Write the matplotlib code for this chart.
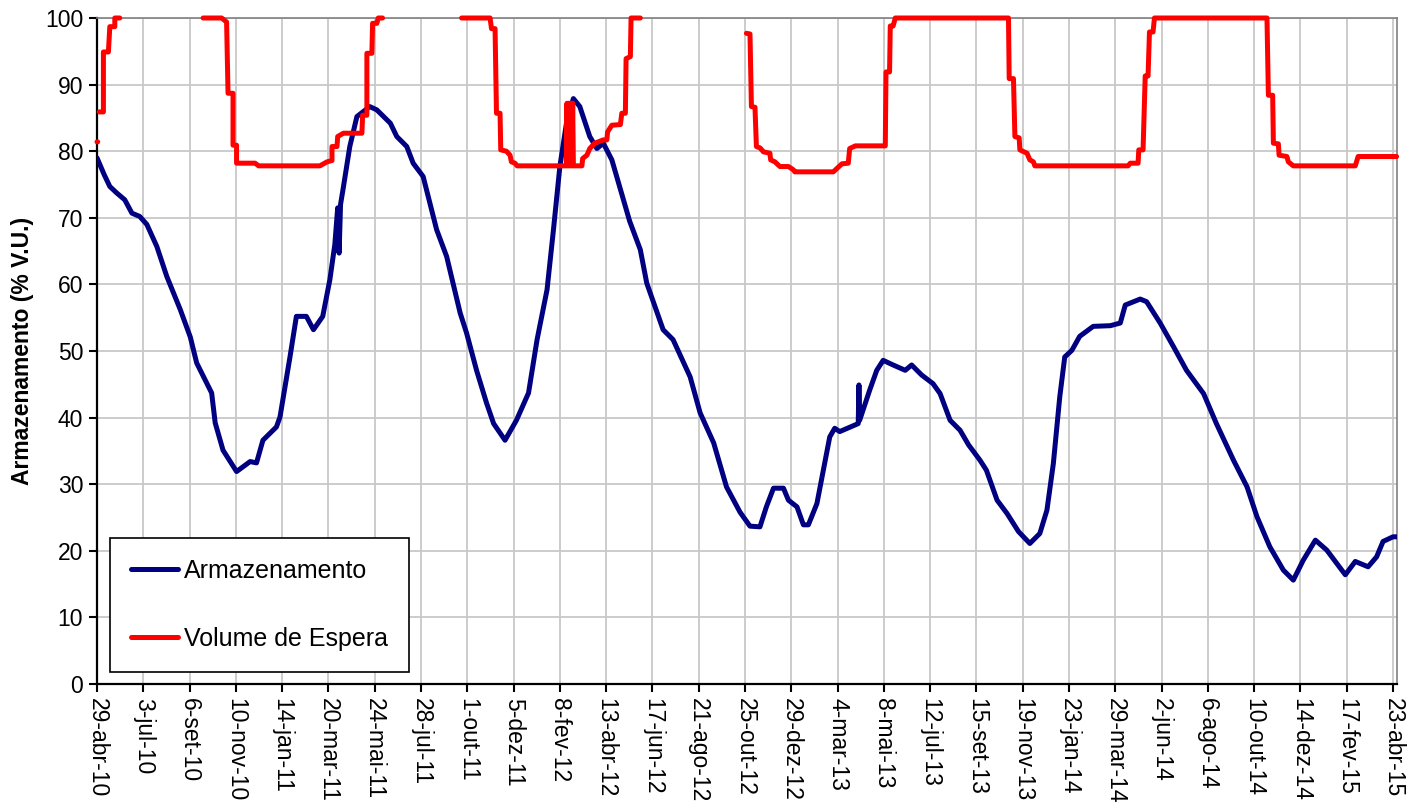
import datetime as dt
import numpy as np
import matplotlib
matplotlib.use("Agg")
import matplotlib.pyplot as plt

plt.rcParams.update({"font.family": ["Liberation Sans", "DejaVu Sans"]})

INICIO = dt.date(2010, 4, 29)
MESES = ["jan", "fev", "mar", "abr", "mai", "jun",
         "jul", "ago", "set", "out", "nov", "dez"]

# Armazenamento (% V.U.) -- days after 29-abr-10
dias_arm = [0, 10, 18, 28, 39, 49, 60, 70, 84, 98, 117, 131, 140, 154, 161,
            166, 177, 196, 215, 224, 233, 252, 257, 271, 280, 294, 304, 317,
            327, 334, 338, 340, 342, 346, 355, 365, 383, 393, 412, 421, 435,
            444, 458, 477, 491, 510, 519, 533, 547, 557, 573, 589, 606, 618,
            632, 641, 650, 660, 669, 678, 692, 702, 711, 723, 748, 763, 772,
            795, 809, 833, 847, 866, 884, 903, 917, 931, 940, 950, 964, 971,
            983, 992, 999, 1011, 1020, 1029, 1036, 1043, 1058, 1069, 1070,
            1071, 1085, 1095, 1104, 1118, 1135, 1144, 1158, 1174, 1184, 1198,
            1212, 1224, 1240, 1249, 1264, 1278, 1294, 1310, 1324, 1334, 1343,
            1352, 1359, 1369, 1380, 1399, 1423, 1437, 1444, 1465, 1474, 1493,
            1512, 1530, 1554, 1572, 1596, 1615, 1629, 1647, 1666, 1680, 1694,
            1711, 1727, 1753, 1767, 1785, 1797, 1806, 1820, 1825]
arm = [79.0, 76.5, 74.7, 73.7, 72.7, 70.7, 70.2, 69.0, 65.7, 61.2, 56.2,
       52.1, 48.2, 45.2, 43.7, 39.2, 35.1, 31.9, 33.4, 33.2, 36.6, 38.6,
       40.1, 49.1, 55.2, 55.2, 53.2, 55.2, 60.7, 66.0, 71.5, 64.7, 72.0,
       74.6, 80.7, 85.2, 86.7, 86.2, 84.2, 82.2, 80.7, 78.2, 76.2, 68.2,
       64.2, 55.7, 52.7, 47.1, 42.2, 39.1, 36.6, 39.6, 43.7, 51.7, 59.2,
       68.2, 77.7, 84.7, 87.9, 86.7, 82.2, 80.4, 81.2, 78.7, 69.5, 65.2,
       60.2, 53.2, 51.7, 46.1, 40.7, 36.2, 29.6, 25.8, 23.7, 23.6, 26.6,
       29.4, 29.4, 27.6, 26.6, 23.9, 23.9, 27.1, 32.1, 37.1, 38.4, 37.9,
       38.6, 39.1, 44.9, 39.6, 44.1, 47.1, 48.6, 47.9, 47.1, 47.9, 46.4,
       45.1, 43.6, 39.6, 38.1, 35.9, 33.6, 32.1, 27.6, 25.6, 22.9, 21.1,
       22.6, 26.1, 33.1, 43.1, 49.1, 50.1, 52.2, 53.7, 53.8, 54.2, 56.9,
       57.8, 57.4, 54.2, 50.6, 47.1, 43.6, 39.1, 33.6, 29.6, 25.1, 20.6,
       17.1, 15.6, 18.6, 21.6, 20.1, 16.4, 18.4, 17.6, 19.1, 21.4, 22.1,
       22.1]

# Volume de Espera (% V.U.) -- nan = no value
dias_esp = [0, 1, 2, 3, 9, 9, 16, 18, 25, 25, 32, 33,
            149, 175, 182, 184, 191, 191, 196, 196, 222, 227, 313, 323, 330,
            330, 337, 338, 346, 372, 373, 379, 379, 386, 387, 393, 395, 401,
            402,
            512, 552, 554, 559, 561, 566, 567, 575, 580, 582, 587, 590, 659,
            660, 661, 662, 663, 664, 665, 666, 667, 668, 669, 681, 682, 688,
            692, 699, 711, 716, 717, 723, 735, 737, 742, 743, 749, 750, 763,
            764,
            912, 917, 919, 924, 926, 931, 936, 945, 946, 952, 959, 971, 978,
            980, 1034, 1039, 1046, 1055, 1057, 1065, 1107, 1108, 1113, 1114,
            1118, 1121, 1280, 1281, 1287, 1289, 1295, 1296, 1306, 1310, 1315,
            1317, 1448, 1451, 1462, 1463, 1469, 1472, 1476, 1478, 1483, 1485,
            1643, 1645, 1651, 1652, 1659, 1660, 1671, 1673, 1680, 1767, 1771,
            1825]
esp = [81.4, 81.4, np.nan, 85.9, 85.9, 94.9, 94.9, 98.7, 98.7, 100, 100,
       np.nan,
       100, 100, 99.4, 88.7, 88.7, 80.9, 80.9, 78.2, 78.2, 77.8, 77.8, 78.4,
       78.6, 80.7, 80.7, 82.2, 82.7, 82.7, 85.4, 85.4, 94.7, 94.7, 99.2,
       99.2, 100, 100, np.nan,
       100, 100, 98.4, 98.4, 85.7, 85.7, 80.2, 80.0, 79.4, 78.4, 78.2, 77.8,
       77.8, 87.2, 77.8, 87.2, 77.8, 87.2, 77.8, 87.2, 77.8, 87.2, 77.8,
       77.8, 78.9, 79.4, 80.4, 81.2, 81.7, 81.7, 82.9, 83.9, 84.0, 85.7,
       85.7, 93.9, 94.2, 100, 100, np.nan,
       97.7, 97.6, 86.7, 86.6, 80.7, 80.5, 79.9, 79.7, 78.7, 78.4, 77.7,
       77.7, 77.2, 76.9, 76.9, 77.4, 78.1, 78.2, 80.4, 80.8, 80.8, 91.9,
       91.9, 98.8, 98.8, 100, 100, 90.9, 90.9, 82.2, 82.0, 80.2, 79.7, 78.7,
       78.4, 77.8, 77.8, 78.2, 78.2, 80.2, 80.2, 91.3, 91.3, 97.9, 97.9, 100,
       100, 88.4, 88.4, 81.2, 81.1, 79.4, 79.2, 78.4, 77.8, 77.8, 79.2,
       79.2]

W, H = 1417, 806
fig = plt.figure(figsize=(W / 100, H / 100), dpi=100, facecolor="white")
ax = fig.add_axes([97 / W, 1 - 684 / H, 1300 / W, 666 / H])

ax.plot(dias_arm, arm, color="#000080", lw=3.6, label="Armazenamento",
        solid_capstyle="round", solid_joinstyle="round", zorder=3)
ax.plot(dias_esp, esp, color="#ff0000", lw=3.6, label="Volume de Espera",
        solid_capstyle="round", solid_joinstyle="round", zorder=4,
        clip_on=False)

# ticks every 65 days
ticks = np.arange(0, 1821, 65)
labels = []
for t in ticks:
    d = INICIO + dt.timedelta(days=int(t))
    labels.append(f"{d.day}-{MESES[d.month - 1]}-{d.strftime('%y')}")
ax.set_xticks(ticks)
ax.set_xticklabels(labels, rotation=-90, fontsize=16.5, va="top", ha="center")
ax.set_xlim(0, 1825.6)

ax.set_ylim(0, 100)
ax.set_yticks(range(0, 101, 10))
ax.tick_params(axis="y", labelsize=16.5)
ax.tick_params(direction="out", length=6, width=1.5, color="black", pad=4)
ax.set_ylabel("Armazenamento (% V.U.)", fontsize=16.5, fontweight="bold",
              labelpad=8)

ax.grid(True, color="#c8c8c8", lw=1.3)
ax.set_axisbelow(True)
for s in ("left", "bottom"):
    ax.spines[s].set_color("black")
    ax.spines[s].set_linewidth(1.6)
for s in ("top", "right"):
    ax.spines[s].set_color("#808080")
    ax.spines[s].set_linewidth(1.2)

leg = ax.legend(loc="lower left", bbox_to_anchor=(13 / 1300, 12 / 666),
                borderaxespad=0, fontsize=18, frameon=True, fancybox=False,
                handlelength=1.85, handletextpad=0.25, labelspacing=1.75,
                borderpad=0.85)
leg.get_frame().set_edgecolor("black")
leg.get_frame().set_linewidth(1.2)
leg.get_frame().set_alpha(1)

fig.savefig("out.png", dpi=100, facecolor="white")
